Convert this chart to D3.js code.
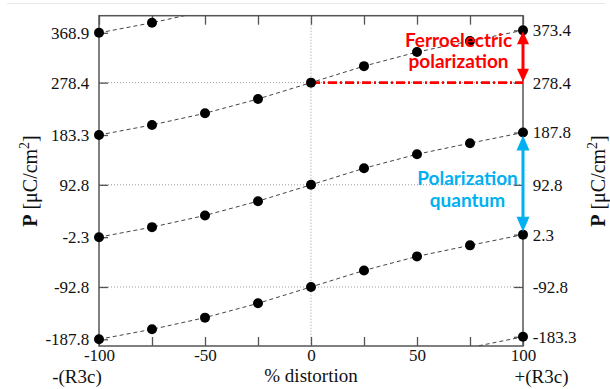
<!DOCTYPE html>
<html>
<head>
<meta charset="utf-8">
<script src="https://cdn.jsdelivr.net/npm/d3@7"></script>
<style>
  html, body { margin: 0; padding: 0; background: #fff; }
  svg { display: block; }
  .serif { font-family: "Liberation Serif", "DejaVu Serif", Times, serif; }
  .sans { font-family: Lato, "Open Sans", sans-serif; font-weight: bold; }
</style>
</head>
<body>
<svg id="chart" width="610" height="389"></svg>
<script>
// Distortion path from -(R3c) to +(R3c), in percent
const distortion = [-100, -75, -50, -25, 0, 25, 50, 75, 100];
const distortionLabels = [-100, -50, 0, 50, 100];

// Polarization branches (μC/cm²), one per lattice of the multivalued P
const branchTop    = [368.9, 387.1, 408.3, 434.3, 464.0, 494.0, 519.6, 539.6, 559.0];
const branchUpper  = [183.3, 201.5, 222.7, 248.7, 278.4, 308.4, 334.0, 354.0, 373.4];
const branchMiddle = [-2.3, 15.9, 37.1, 63.1, 92.8, 122.8, 148.4, 168.4, 187.8];
const branchLower  = [-187.8, -169.7, -148.5, -122.5, -92.8, -62.8, -37.2, -17.2, 2.3];
const branchBottom = [-373.4, -355.3, -334.1, -308.1, -278.4, -248.4, -222.8, -202.8, -183.3];
const branches = [branchTop, branchUpper, branchMiddle, branchLower, branchBottom];

// Tick labels on each side
const leftTicks  = [368.9, 278.4, 183.3, 92.8, -2.3, -92.8, -187.8];
const rightTicks = [373.4, 278.4, 187.8, 92.8, 2.3, -92.8, -183.3];
const gridTicks  = [278.4, 92.8, -92.8];

// Annotated quantities
const ferroFrom = 278.4, ferroTo = 373.4;
const quantumFrom = 2.3, quantumTo = 187.8;

const yDomain = [-200, 400];
const xDomain = [-100, 100];

const svg = d3.select("#chart");
const L = 99, R = 523, T = 15.7, B = 346;

const x = d3.scaleLinear().domain(xDomain).range([L, R]);
const y = d3.scaleLinear().domain(yDomain).range([B, T]);

const serifFamily = "Liberation Serif, DejaVu Serif, Times, serif";
const axisColor = "#555";

// faint frame line along the top
svg.append("line").attr("x1", 7).attr("x2", 605).attr("y1", 3.5).attr("y2", 3.5)
  .attr("stroke", "#e8e8e8").attr("stroke-width", 1);

svg.append("defs").append("clipPath").attr("id", "plot")
  .append("rect").attr("x", L).attr("y", T).attr("width", R - L).attr("height", B - T);

// dotted grid
const grid = svg.append("g").attr("stroke", "#999").attr("stroke-width", 1)
  .attr("stroke-dasharray", "1,2");
grid.selectAll("line.h").data(gridTicks).join("line").attr("class", "h")
  .attr("x1", L).attr("x2", R).attr("y1", d => y(d)).attr("y2", d => y(d));
grid.append("line").attr("x1", x(0)).attr("x2", x(0)).attr("y1", T).attr("y2", B);

// axes
function styleAxis(g) {
  g.attr("font-family", serifFamily).attr("font-size", 17);
  g.select(".domain").remove();
  g.selectAll(".tick line").attr("stroke", axisColor).attr("stroke-width", 1.3);
  g.selectAll(".tick text").attr("fill", "#111").attr("class", "serif");
}

svg.append("g").attr("transform", `translate(0,${B})`)
  .call(d3.axisBottom(x).tickValues(distortion).tickSize(-9).tickPadding(3)
    .tickFormat(d => distortionLabels.includes(d) ? String(d) : ""))
  .call(styleAxis);
svg.append("g").attr("transform", `translate(0,${T})`)
  .call(d3.axisTop(x).tickValues(distortion).tickSize(-9).tickFormat(""))
  .call(styleAxis);
svg.append("g").attr("transform", `translate(${L},0)`)
  .call(d3.axisLeft(y).tickValues(leftTicks).tickSize(-9).tickPadding(9.7)
    .tickFormat(d => d.toFixed(1)))
  .call(styleAxis);
svg.append("g").attr("transform", `translate(${R},0)`)
  .call(d3.axisRight(y).tickValues(rightTicks).tickSize(-9).tickPadding(9.7)
    .tickFormat(d => d.toFixed(1)))
  .call(styleAxis);

// plot border
svg.append("rect").attr("x", L).attr("y", T).attr("width", R - L).attr("height", B - T)
  .attr("fill", "none").attr("stroke", axisColor).attr("stroke-width", 1.5);

// ferroelectric polarization reference line
svg.append("line").attr("x1", x(0)).attr("x2", x(100)).attr("y1", y(ferroFrom)).attr("y2", y(ferroFrom))
  .attr("stroke", "#ff0000").attr("stroke-width", 2.6).attr("stroke-dasharray", "9,3,2,3");

// branches: dashed lines + points
const line = d3.line().x((d, i) => x(distortion[i])).y(d => y(d));
const curves = svg.append("g").attr("clip-path", "url(#plot)");
branches.forEach(b => {
  curves.append("path").attr("d", line(b)).attr("fill", "none")
    .attr("stroke", "#444").attr("stroke-width", 1).attr("stroke-dasharray", "4,3");
});
const pts = [];
branches.forEach(b => b.forEach((v, i) => {
  if (v >= yDomain[0] && v <= yDomain[1]) pts.push([distortion[i], v]);
}));
svg.append("g").selectAll("circle").data(pts).join("circle")
  .attr("cx", d => x(d[0])).attr("cy", d => y(d[1])).attr("r", 5).attr("fill", "#000");

// double-headed arrows
function arrow(v0, v1, color, headLen, headHalf, inset) {
  const xa = x(100);
  const yTop = y(v1) + inset, yBot = y(v0) - inset;
  svg.append("line").attr("x1", xa).attr("x2", xa)
    .attr("y1", yTop + headLen - 1).attr("y2", yBot - headLen + 1)
    .attr("stroke", color).attr("stroke-width", 3);
  svg.append("path").attr("fill", color)
    .attr("d", `M${xa},${yTop} L${xa - headHalf},${yTop + headLen} L${xa + headHalf},${yTop + headLen} Z`);
  svg.append("path").attr("fill", color)
    .attr("d", `M${xa},${yBot} L${xa - headHalf},${yBot - headLen} L${xa + headHalf},${yBot - headLen} Z`);
}
arrow(ferroFrom, ferroTo, "#ff0000", 13, 6, 1);
arrow(quantumFrom, quantumTo, "#00b0f0", 15, 6.5, 3);

// annotation texts
const redText = svg.append("text").attr("class", "sans").attr("fill", "#ff0000")
  .attr("text-anchor", "middle").attr("font-size", 19);
redText.append("tspan").attr("x", 458.5).attr("y", 46.7).text("Ferroelectric");
redText.append("tspan").attr("x", 458.5).attr("y", 68.3).text("polarization");

const blueText = svg.append("text").attr("class", "sans").attr("fill", "#00b0f0")
  .attr("text-anchor", "middle").attr("font-size", 19);
blueText.append("tspan").attr("x", 467.5).attr("y", 185).text("Polarization");
blueText.append("tspan").attr("x", 467.5).attr("y", 206.5).text("quantum");

// axis titles
function serifText(tx, ty, size, str) {
  return svg.append("text").attr("class", "serif").attr("x", tx).attr("y", ty)
    .attr("text-anchor", "middle").attr("font-size", size).attr("fill", "#111").text(str);
}
serifText(x(0), 381.5, 19, "% distortion");
serifText(77, 383, 19, "-(R3c)");
serifText(541.5, 383, 19, "+(R3c)");

function yTitle(cx, cy) {
  const t = svg.append("text").attr("class", "serif")
    .attr("transform", `translate(${cx},${cy}) rotate(-90)`)
    .attr("text-anchor", "middle").attr("fill", "#111").attr("font-size", 20);
  t.append("tspan").attr("font-weight", "bold").text("P");
  t.append("tspan").text(" [μC/cm");
  t.append("tspan").attr("dy", -8).attr("font-size", 14).text("2");
  t.append("tspan").attr("dy", 8).text("]");
}
yTitle(36.5, 181);
yTitle(605, 181);
</script>
</body>
</html>
